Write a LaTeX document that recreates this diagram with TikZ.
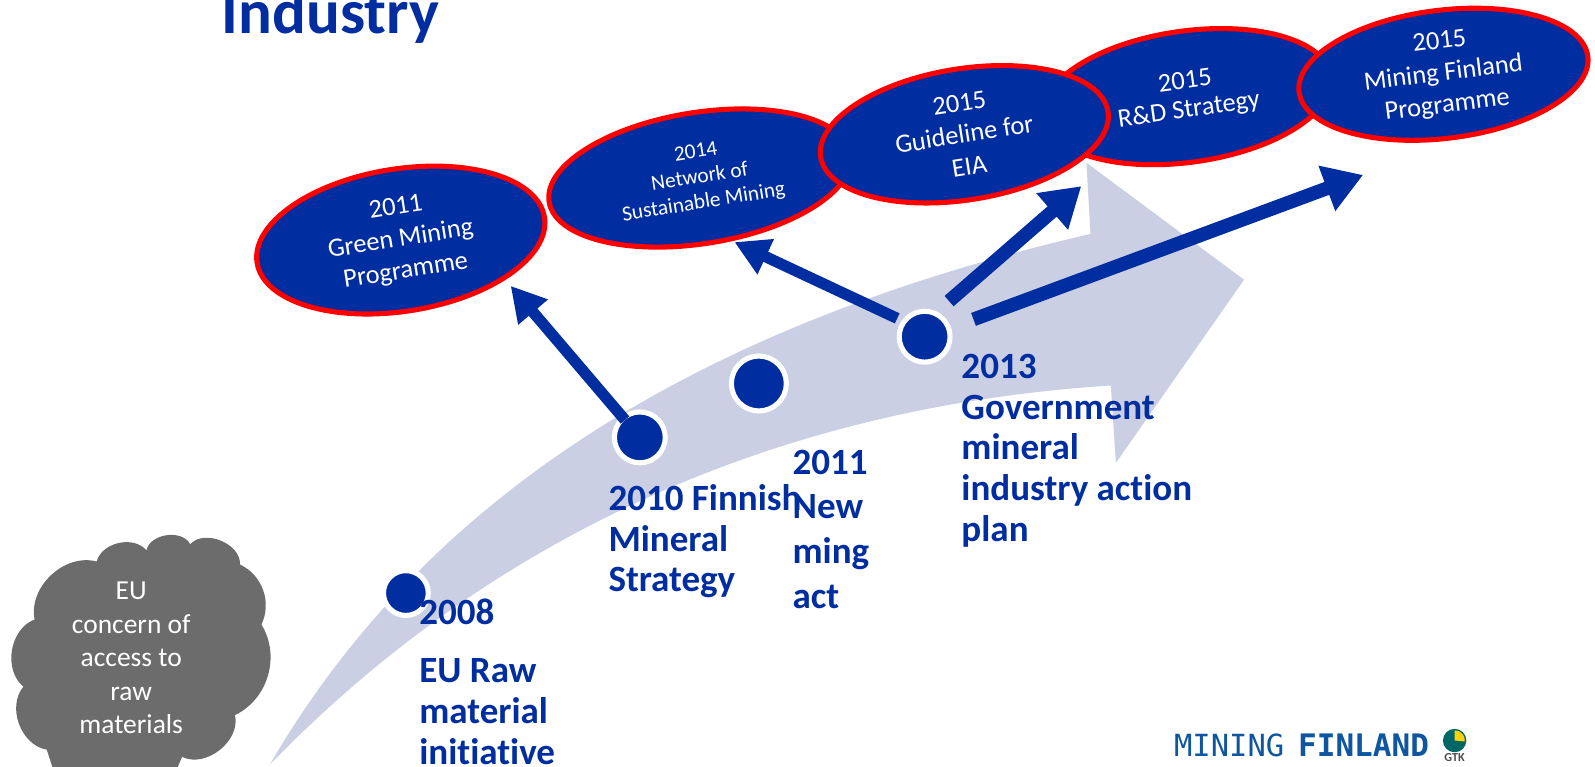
\documentclass[tikz,border=0pt]{standalone}
\usepackage{fontspec}
\setmainfont[RawFeature={-liga;-clig;-dlig}]{Carlito}
\newfontfamily\logofont{DejaVu Sans Mono}
\usetikzlibrary{arrows.meta,shapes.geometric}
\definecolor{deepblue}{HTML}{002D9F}
\definecolor{flowgrey}{HTML}{CBCFE3}
\definecolor{cloudgrey}{HTML}{6C6C6C}
\definecolor{logoblue}{HTML}{0F56A0}
\tikzset{
  oval/.style={ellipse,draw=red,fill=deepblue,line width=5pt,text=white,inner sep=0pt,
    minimum width=286pt,minimum height=129pt,align=center,
    font=\fontsize{26}{31.5}\selectfont},
  dotmark/.style={circle,fill=deepblue,draw=white,line width=5pt,inner sep=0pt},
  heading/.style={anchor=north west,inner sep=0pt,align=left,text=deepblue,
    font=\bfseries\fontsize{36.4}{40}\selectfont},
  push/.style={draw=deepblue,line width=11pt,-{Triangle[length=34pt,width=36pt]}},
  bigpush/.style={draw=deepblue,line width=13.5pt,-{Triangle[length=38pt,width=45pt]}},
}
\begin{document}
\begin{tikzpicture}[x=1pt,y=-1pt]
\useasboundingbox (0,0) rectangle (1568,754);
% title
\node[anchor=base west,inner sep=0pt,text=deepblue,font=\bfseries\fontsize{62}{70}\selectfont] (title) at (218,33) {Industry};
% big curved arrow
\fill[flowgrey] (265,752)
  .. controls (400,520) and (640,330) .. (1072,230)
  -- (1068,160) -- (1223,275) -- (1097,455) -- (1092,379)
  .. controls (760,400) and (480,530) .. (265,752) -- cycle;
% cloud
\fill[cloudgrey] (34,609)
  to[bend left=58] (95,552) to[bend left=62] (144,541) to[bend left=70] (187,535)
  to[bend left=70] (236,555) to[bend left=45] (257,614) to[bend left=48] (231,703)
  to[bend left=65] (179,744) -- (170,765) -- (55,765) -- (46,737)
  to[bend left=60] (23,675) to[bend left=60] (34,609) -- cycle;
\node[inner sep=0pt,align=center,text=white,font=\fontsize{27}{33}\selectfont] (cloud) at (129,647)
  {EU\\concern of\\access to\\raw\\materials};
% ovals
\node[oval,rotate=8] (rd) at (1167,95) {2015\\[-3pt]R\&D Strategy};
\node[oval,rotate=7,minimum height=126pt] (mf) at (1419,73) {2015\\Mining Finland\\Programme};
\node[oval,rotate=9,font=\fontsize{21}{25}\selectfont,minimum width=300pt] (net) at (688,175) {2014\\Network of\\Sustainable Mining};
\node[oval,rotate=9] (eia) at (948,132) {2015\\Guideline for\\EIA};
\node[oval,rotate=9,minimum height=140pt] (gm) at (394,236) {2011\\Green Mining\\Programme};
% dots
\node[dotmark,minimum size=44pt] (d08) at (399,583) {};
\node[dotmark,minimum size=50pt] (d10) at (629,430) {};
\node[dotmark,minimum size=54pt] (d11) at (746,377) {};
\node[dotmark,minimum size=50pt] (d13) at (909,331) {};
% connectors
\coordinate (t1) at (502,281);
\coordinate (t2) at (722,238);
\coordinate (t3) at (1063,183);
\coordinate (t4) at (1340,172);
\coordinate (s2) at (882,313);
\coordinate (s3) at (933,296);
\coordinate (s4) at (957,314);
\draw[push,shorten <=-5pt] (d10) -- (t1);
\draw[push] (s2) -- (t2);
\draw[bigpush] (s3) -- (t3);
\draw[bigpush] (s4) -- (t4);
% labels
\node[heading] (l08) at (412,589) {2008\\[17pt]EU Raw\\material\\initiative};
\node[heading] (l10) at (598,476) {2010 Finnish\\Mineral\\Strategy};
\node[heading,font=\bfseries\fontsize{36.4}{44}\selectfont] (l11) at (779,442) {2011\\New\\ming\\act};
\node[heading] (l13) at (945,348) {2013\\Government\\mineral\\industry action\\plan};
% logo
\node[anchor=base west,inner sep=0pt,text=logoblue,font=\logofont\fontsize{30}{30}\selectfont] (lg1) at (1154,744) {MINING};
\node[anchor=base west,inner sep=0pt,text=logoblue,font=\logofont\bfseries\fontsize{30.5}{30}\selectfont] (lg2) at (1276,744) {FINLAND};
\fill[fill=teal!80!black] (1430,728) circle (11.5pt);
\fill[fill=yellow!70!orange] (1430,728) -- (1430,718) arc[start angle=90,end angle=-5,radius=10pt] -- cycle;
\node[anchor=base,inner sep=0pt,text=black!70,font=\bfseries\fontsize{12}{12}\selectfont] (gtk) at (1430,749) {GTK};
\end{tikzpicture}
\end{document}
